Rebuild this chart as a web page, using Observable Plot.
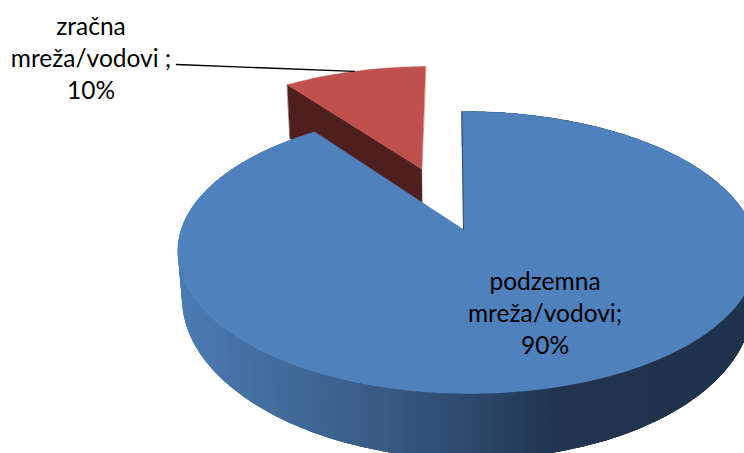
<!DOCTYPE html>
<html>
<head>
<meta charset="utf-8">
<script src="https://cdn.jsdelivr.net/npm/d3@7"></script>
<script src="https://cdn.jsdelivr.net/npm/@observablehq/plot@0.6"></script>
<style>html,body{margin:0;padding:0;background:#fff;overflow:hidden}svg{display:block}</style>
</head>
<body>
<script>
const categories = ["podzemna mreža/vodovi", "zračna mreža/vodovi"];
const values = [90, 10];
const labels = ["podzemna\nmreža/vodovi;\n90%", "zračna\nmreža/vodovi ;\n10%"];
const topColors = ["#4f81bd", "#c0504d"];
const innerColor = "#4f1f1e";
const edgeColor = "#1f3550";

// the pie's tilted view
const view = {ax: 463, ay: 229, rx: 285.6, ry: 137.2, k: 0.163, m: -0.012, skew: -2, depth: 46, redDepth: 80, taper: 0.985, explode: 0.5};
const project = ([u, v]) => {
  const w = 1 + view.k * v + view.m * u;
  return {x: view.ax + (view.rx * u + view.skew * v) / w, y: view.ay - view.ry * v / w, w};
};
const lower = (p, depth = view.depth) => ({x: view.ax + (p.x - view.ax) * view.taper, y: p.y + depth / (p.w * p.w)});
const rimPoint = (a, o = [0, 0]) => project([o[0] + Math.sin(a), o[1] + Math.cos(a)]);
const rimPath = (a0, a1, o, step = Math.PI / 180) => {
  const n = Math.ceil((a1 - a0) / step);
  return d3.range(n + 1).map((i) => rimPoint(a0 + (a1 - a0) * i / n, o));
};

const arcs = d3.pie().sort(null)(values);
const [blue, red] = arcs;
const mid = (red.startAngle + red.endAngle) / 2;
const offset = [view.explode * Math.sin(mid), view.explode * Math.cos(mid)];

const blueTop = [project([0, 0]), ...rimPath(blue.startAngle, blue.endAngle, [0, 0])];
const redApex = project(offset);
const redRim = rimPath(red.startAngle, red.endAngle, offset);
const redTop = [redApex, ...redRim];
const redCorner = redRim[0];
const redInner = [redCorner, redApex, lower(redApex, view.redDepth), lower(redCorner, view.redDepth)];

const wallShade = d3.scaleLinear()
  .domain([177, 370, 470, 560, 744])
  .range(["#4b7cb4", "#3a5d87", "#2d4a6d", "#20344e", "#1f334c"])
  .clamp(true);

// every strip overlaps the following ones so no seams show; later strips paint over
const wall = [];
const rim = rimPath(blue.startAngle, blue.endAngle, [0, 0], Math.PI / 180);
const span = 3;
rim.slice(0, -1).forEach((p, i) => {
  const shade = wallShade(p.x);
  const arc = rim.slice(i, Math.min(i + span, rim.length - 1) + 1);
  [...arc, ...arc.slice().reverse().map((c) => lower(c))].forEach((c) => wall.push({x: c.x, y: c.y, id: i, shade}));
});

const leader = [{x: 176, y: 64}, rimPoint(mid, offset)];
const blueEdge = [rimPoint(0), project([0, 0])];

const poly = (pts, color) => Plot.line(pts, {x: "x", y: "y", fill: color, stroke: color, strokeWidth: 0.5, curve: "linear-closed"});

const chart = Plot.plot({
  width: 744,
  height: 453,
  margin: 0,
  x: {domain: [0, 744], range: [0, 744], axis: null},
  y: {domain: [0, 453], range: [0, 453], axis: null},
  color: {type: "identity"},
  style: {background: "#fff", overflow: "hidden"},
  marks: [
    poly(redInner, innerColor),
    poly(redTop, topColors[1]),
    Plot.line(wall, {x: "x", y: "y", z: "id", fill: "shade", stroke: "none", curve: "linear-closed"}),
    poly(blueTop, topColors[0]),
    Plot.line(blueEdge, {x: "x", y: "y", stroke: edgeColor, strokeWidth: 1, strokeOpacity: 0.8}),
    Plot.line(leader, {x: "x", y: "y", stroke: "#000", strokeWidth: 1.4}),
    Plot.text([labels[0]], {text: (d) => d, frameAnchor: "top-left", dx: 544.5, dy: 311.5, lineAnchor: "middle", fontFamily: "Lato", fontSize: 24.5, lineHeight: 1.3, fill: "#000", textAnchor: "middle"}),
    Plot.text([labels[1]], {text: (d) => d, frameAnchor: "top-left", dx: 90.5, dy: 56.5, lineAnchor: "middle", fontFamily: "Lato", fontSize: 24.5, lineHeight: 1.3, fill: "#000", textAnchor: "middle"})
  ]
});
document.body.appendChild(chart);
</script>
</body>
</html>
